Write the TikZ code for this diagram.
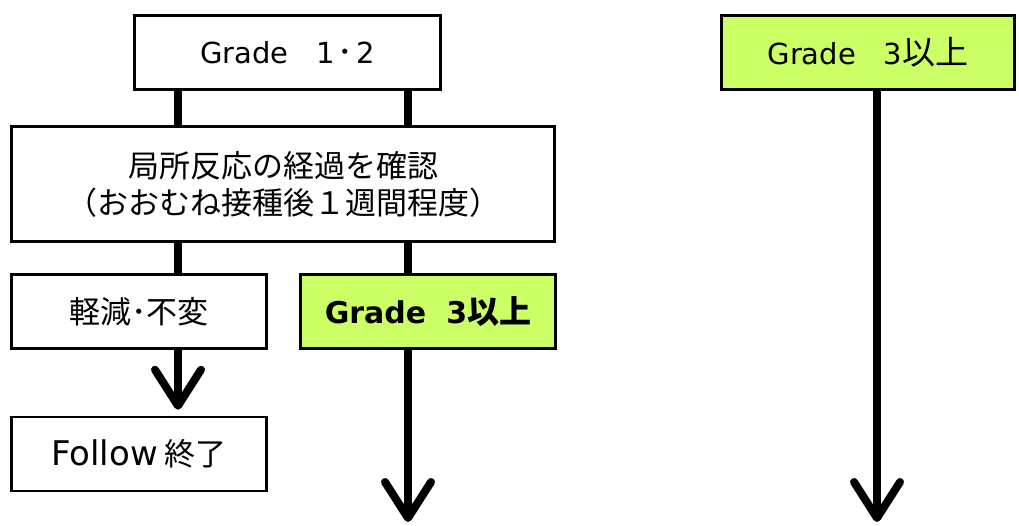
\documentclass[tikz,border=0pt]{standalone}
\usepackage{fontspec}
\setmainfont{Noto Sans CJK JP}
\newfontfamily\lat{DejaVu Sans}
\usetikzlibrary{arrows.meta,positioning}
\definecolor{lime}{RGB}{204,255,102}
\newcommand{\jp}{\fontsize{31pt}{37pt}\selectfont}

\begin{document}
\begin{tikzpicture}[x=1pt, y=-1pt,
  box/.style={draw, line width=2.5pt, minimum height=74pt, inner sep=0pt, align=center, font=\jp},
  hot/.style={box, fill=lime},
  bar/.style={line width=8pt},
  down/.style={bar, -{Straight Barb[round, length=36pt, width=46pt]}}]
\useasboundingbox (0,0) rectangle (1019,525);

% 左の流れ
\node[box, minimum width=306pt] (g12) at (287.5,52.5) {{\fontsize{29pt}{32pt}\lat Grade\hspace{28pt}1}\hspace{3pt}･\hspace{3pt}{\fontsize{29pt}{32pt}\lat 2}};
\node[box, minimum width=543pt, minimum height=115pt] (check) at (283,184) {局所反応の経過を確認\\（おおむね接種後１週間程度）};
\node[box, minimum width=255pt] (mild) at (139,311.5) {軽減･不変};
\node[hot, minimum width=255pt] (g3a) at (428,311.5) {{\fontsize{30pt}{34pt}\lat\bfseries Grade\hspace{20pt}3}{\fontsize{32pt}{37pt}\selectfont\bfseries 以上}};
\node[box, minimum width=255pt] (follow) at (139,454) {{\fontsize{34pt}{38pt}\lat Follow} 終了};

% 右の流れ
\node[hot, minimum width=293pt] (g3b) at (868,52.5) {{\fontsize{29pt}{32pt}\lat Grade\hspace{28pt}3}{\fontsize{33pt}{37pt}\selectfont 以上}};

% 線の位置
\coordinate (lx) at (178,0);
\coordinate (rx) at (408,0);
\coordinate (fx) at (877,0);
\coordinate (endA) at (408,522);
\coordinate (endB) at (877,522);

% 連結
\draw[bar] (g12.south -| lx) -- (check.north -| lx);
\draw[bar] (g12.south -| rx) -- (check.north -| rx);
\draw[bar] (check.south -| lx) -- (mild.north -| lx);
\draw[bar] (check.south -| rx) -- (g3a.north -| rx);
\draw[down, shorten >=6pt] (mild.south -| lx) -- (follow.north -| lx);
\draw[down] (g3a.south -| rx) -- (endA);
\draw[down] (g3b.south -| fx) -- (endB);
\end{tikzpicture}
\end{document}
